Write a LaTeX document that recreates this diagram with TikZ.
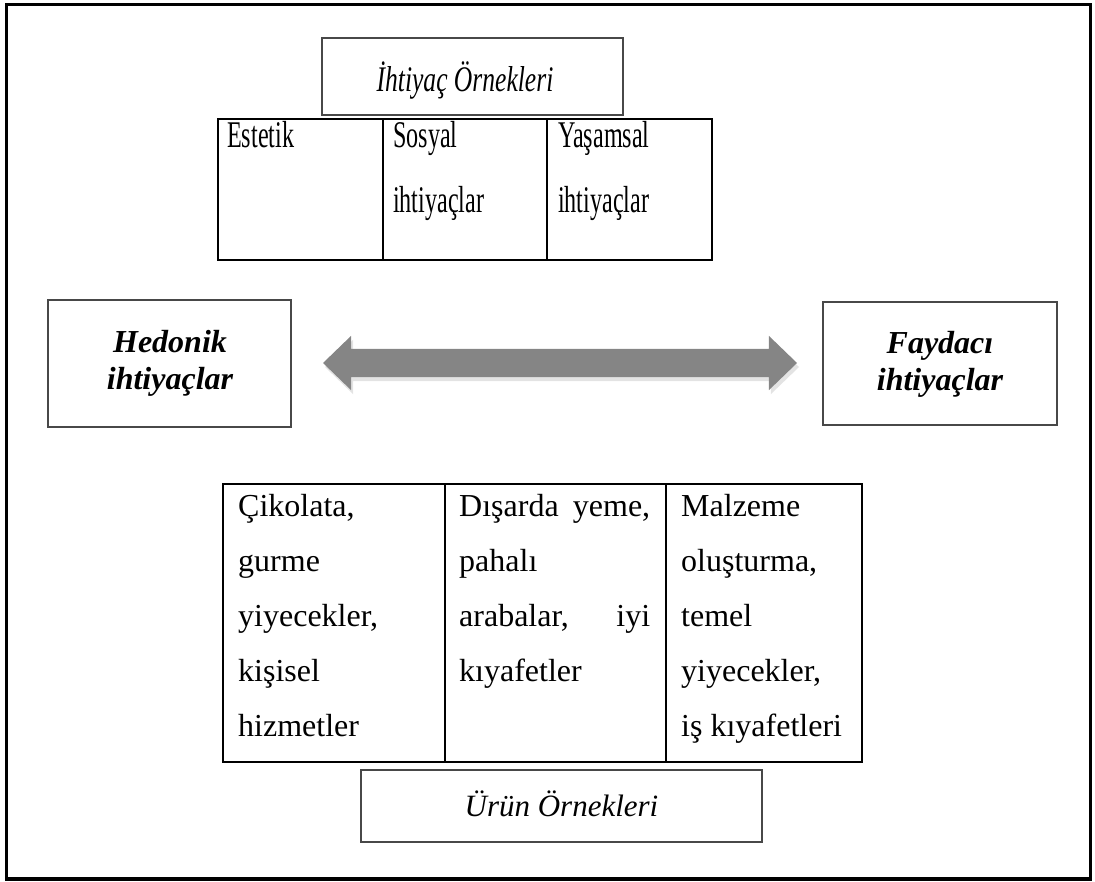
\documentclass[tikz,border=0pt]{standalone}
\usepackage{fontspec}
\setmainfont{Liberation Serif}
\newfontfamily\narrowserif[FakeStretch=0.64]{Liberation Serif}
\newfontfamily\narrowtitle[FakeStretch=0.71]{Liberation Serif}
\usetikzlibrary{shapes.arrows,shadows}

\definecolor{arrowgray}{HTML}{858585}
\definecolor{boxgray}{HTML}{484848}

\tikzset{
  outerframe/.style={line width=3.2pt},
  tabline/.style={line width=2pt},
  labelbox/.style={draw=boxgray, line width=1.1pt, inner sep=0pt},
  cell/.style={anchor=base west, inner sep=0pt},
  toptext/.style={font=\narrowserif\fontsize{37.7}{65}\selectfont},
  bottomtext/.style={font=\fontsize{32}{55}\selectfont},
  sidetext/.style={anchor=base, inner sep=0pt, font=\bfseries\itshape\fontsize{32}{37}\selectfont},
}

\begin{document}
\begin{tikzpicture}[x=1pt,y=-1pt]
\useasboundingbox (0,0) rectangle (1095,882);

% page frame
\draw[outerframe] (6.5,4.5) rectangle (1090.5,879);

% heading of the needs table
\node[labelbox, minimum width=301pt, minimum height=77pt] (needhead) at (472.5,76.5) {};
\node[anchor=base, inner sep=0pt, font=\narrowtitle\itshape\fontsize{36}{40}\selectfont] (needtitle) at (465,92) {İhtiyaç Örnekleri};

% needs table
\draw[tabline] (218,119) rectangle (712,260);
\draw[tabline] (383,119) -- (383,260);
\draw[tabline] (547,119) -- (547,260);
\node[cell, toptext] (needa) at (227,148) {\parbox[t]{150pt}{\raggedright Estetik}};
\node[cell, toptext] (needb) at (393,148) {\parbox[t]{150pt}{\raggedright Sosyal\\ihtiyaçlar}};
\node[cell, toptext] (needc) at (558,148) {\parbox[t]{150pt}{\raggedright Yaşamsal\\ihtiyaçlar}};

% the two kinds of needs
\node[labelbox, minimum width=243pt, minimum height=127pt] (hedbox) at (169.5,363.5) {};
\node[sidetext] (hedtext) at (170,353) {\parbox[t]{220pt}{\centering Hedonik\\ihtiyaçlar}};
\node[labelbox, minimum width=234pt, minimum height=123pt] (faybox) at (940,363.5) {};
\node[sidetext] (faytext) at (940,354) {\parbox[t]{220pt}{\centering Faydacı\\ihtiyaçlar}};

% two-headed arrow between them
\node[double arrow, fill=arrowgray, draw=none, inner sep=14pt,
      minimum height=474pt, minimum width=54pt,
      double arrow head extend=13pt, double arrow tip angle=88,
      drop shadow={opacity=0.22, shadow xshift=2pt, shadow yshift=-4pt}]
      (bothways) at (560,363) {};

% product table
\draw[tabline] (223,484) rectangle (862,762);
\draw[tabline] (445,484) -- (445,762);
\draw[tabline] (666,484) -- (666,762);
\node[cell, bottomtext] (proda) at (238,516) {\parbox[t]{200pt}{\raggedright Çikolata,\\gurme\\yiyecekler,\\kişisel\\hizmetler}};
\node[cell, bottomtext] (prodb) at (459,516) {\parbox[t]{191pt}{Dışarda\hfill yeme,\\pahalı\\arabalar,\hfill iyi\\kıyafetler\hfill\null}};
\node[cell, bottomtext] (prodc) at (681,516) {\parbox[t]{180pt}{\raggedright Malzeme\\oluşturma,\\temel\\yiyecekler,\\iş kıyafetleri}};

% heading of the products table
\node[labelbox, minimum width=401pt, minimum height=72pt] (prodhead) at (561.5,806) {};
\node[anchor=base, inner sep=0pt, font=\itshape\fontsize{31}{36}\selectfont] (prodtitle) at (561.5,816) {Ürün Örnekleri};
\end{tikzpicture}
\end{document}
